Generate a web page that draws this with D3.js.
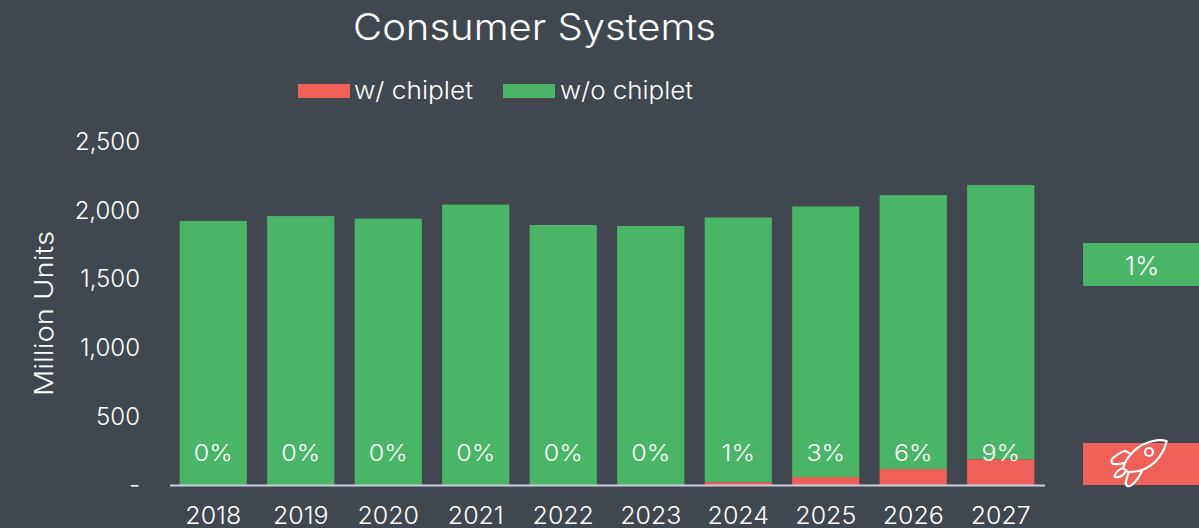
<!DOCTYPE html>
<html><head><meta charset="utf-8">
<script src="https://cdn.jsdelivr.net/npm/d3@7/dist/d3.min.js"></script>
<style>html,body{margin:0;padding:0;background:#41474e;overflow:hidden}
text{font-family:Inter,"Open Sans",sans-serif;font-weight:300;fill:#fff}</style></head>
<body><svg id="c" width="1199" height="528"></svg>
<script>
const years=["2018","2019","2020","2021","2022","2023","2024","2025","2026","2027"];
const withChiplet=[0,0,0,0,0,0,20,58,117,186];
const withoutChiplet=[1924,1960,1942,2044,1895,1888,1930,1972,1996,2000];
const shareLabels=["0%","0%","0%","0%","0%","0%","1%","3%","6%","9%"];
const yTicks=[0,500,1000,1500,2000,2500];
const red="#ee6058",green="#4ab567",axisColor="#c9d0e0";
const svg=d3.select("#c");
const x=d3.scaleBand().domain(years).range([169.5,1044.5]).paddingInner(0.232).paddingOuter(0.116);
const y=d3.scaleLinear().domain([0,2500]).range([485,142]);
const fmt=d3.format(",");
const widen=(sel,f)=>sel.each(function(){const t=d3.select(this);t.attr("lengthAdjust","spacingAndGlyphs").attr("textLength",this.getComputedTextLength()*f);});

svg.append("text").attr("x",534.5).attr("y",40).attr("text-anchor","middle").attr("font-size",37)
 .attr("lengthAdjust","spacingAndGlyphs").attr("textLength",363).text("Consumer Systems");

// legend
svg.append("rect").attr("x",298).attr("y",84).attr("width",52).attr("height",14).attr("fill",red);
svg.append("text").attr("x",354).attr("y",98.5).attr("font-size",24).attr("lengthAdjust","spacingAndGlyphs").attr("textLength",119).text("w/ chiplet");
svg.append("rect").attr("x",503).attr("y",84).attr("width",52).attr("height",14).attr("fill",green);
svg.append("text").attr("x",560).attr("y",98.5).attr("font-size",24).attr("lengthAdjust","spacingAndGlyphs").attr("textLength",133).text("w/o chiplet");

// y axis
const yAxis=d3.axisLeft(y).tickValues(yTicks).tickSize(0).tickPadding(0).tickFormat(d=>d===0?"-":fmt(d));
const ya=svg.append("g").attr("transform","translate(140,-1)").call(yAxis);
ya.select(".domain").remove();
ya.selectAll("text").attr("font-size",24).attr("dy","0.36em").style("fill","#fff").style("font-family",'Inter,"Open Sans",sans-serif');

svg.append("text").attr("transform","translate(53,313.5) rotate(-90)").attr("text-anchor","middle").attr("font-size",25)
 .attr("lengthAdjust","spacingAndGlyphs").attr("textLength",165).text("Million Units");

// bars
const g=svg.append("g");
g.selectAll("rect.no").data(years).join("rect").attr("class","no")
 .attr("x",d=>x(d)).attr("width",x.bandwidth())
 .attr("y",(d,i)=>y(withChiplet[i]+withoutChiplet[i]))
 .attr("height",(d,i)=>y(withChiplet[i])-y(withChiplet[i]+withoutChiplet[i])).attr("fill",green);
g.selectAll("rect.w").data(years).join("rect").attr("class","w")
 .attr("x",d=>x(d)).attr("width",x.bandwidth())
 .attr("y",(d,i)=>y(withChiplet[i]))
 .attr("height",(d,i)=>y(0)-y(withChiplet[i])).attr("fill",red);
g.selectAll("text.s").data(years).join("text").attr("class","s")
 .attr("x",d=>x(d)+x.bandwidth()/2).attr("y",460.5).attr("text-anchor","middle").attr("font-size",23)
 .text((d,i)=>shareLabels[i]).call(widen,1.09);

// x axis
const xAxis=d3.axisBottom(x).tickSize(0).tickPadding(0);
const xa=svg.append("g").attr("transform","translate(0,485)").call(xAxis);
xa.select(".domain").attr("stroke",axisColor).attr("stroke-width",2);
xa.selectAll("text").attr("font-size",24).attr("y",38.5).attr("dy",0).style("fill","#fff").style("font-family",'Inter,"Open Sans",sans-serif').call(widen,1.04);

// side tiles
svg.append("rect").attr("x",1083).attr("y",243).attr("width",116).attr("height",43).attr("fill",green);
svg.append("text").attr("x",1142).attr("y",274.5).attr("text-anchor","middle").attr("font-size",26).text("1%");
svg.append("rect").attr("x",1083).attr("y",443).attr("width",116).attr("height",42).attr("fill",red);

// rocket icon
const r=svg.append("g").attr("fill","none").attr("stroke","#fff").attr("stroke-width",2.2).attr("stroke-linejoin","round").attr("stroke-linecap","round");
r.append("path").attr("d","M1166.7 441 C1161 439.5 1157 440 1153 441 C1147 442.5 1143 444 1139 447 C1133 451 1129 456 1126 461 C1124.5 464 1123.5 466 1123 468 L1128 472 C1133 472 1138 471.5 1142 470 C1147 468 1152 465 1155 462 C1160 457 1165 448 1166.7 441 Z");
r.append("circle").attr("cx",1149).attr("cy",452).attr("r",4);
r.append("path").attr("d","M1129 453 L1125 451 C1122 451 1117 455 1113 458 C1111 460 1111 463 1113 464 C1117 464.5 1121 464 1124 463");
r.append("path").attr("d","M1142 471 C1140 475 1137 480 1135 482 C1132 485 1129 487 1127.5 486 C1126 485 1125.5 483 1126 481 L1128.5 473");
r.append("path").attr("d","M1123 468 C1119 469.5 1115 473 1114.5 476.5 C1116 478 1120 477 1122 475.5 C1123.5 474.5 1125 473 1126 471");
</script></body></html>
